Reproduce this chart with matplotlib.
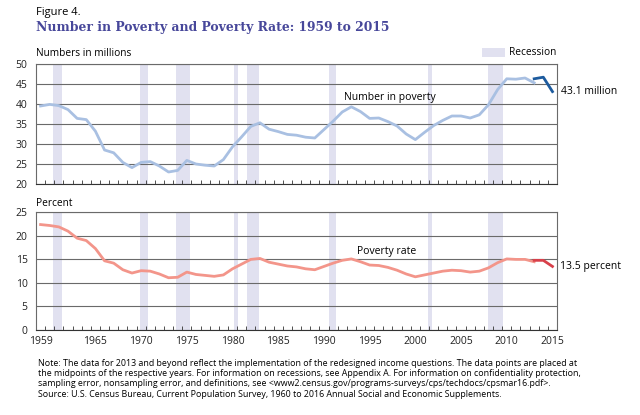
import matplotlib
matplotlib.use("Agg")
import matplotlib.pyplot as plt

# annual estimates, old income questions (1959-2013)
years = list(range(1959, 2014))
number_old = [39.5, 39.9, 39.6, 38.6, 36.4, 36.1, 33.2, 28.5, 27.8, 25.4,
              24.1, 25.4, 25.6, 24.5, 23.0, 23.4, 25.9, 25.0, 24.7, 24.5,
              26.1, 29.3, 31.8, 34.4, 35.3, 33.7, 33.1, 32.4, 32.2, 31.7,
              31.5, 33.6, 35.7, 38.0, 39.3, 38.1, 36.4, 36.5, 35.6, 34.5,
              32.5, 31.1, 32.9, 34.6, 35.9, 37.0, 37.0, 36.5, 37.3, 39.8,
              43.6, 46.3, 46.2, 46.5, 45.3]
rate_old = [22.4, 22.2, 21.9, 21.0, 19.5, 19.0, 17.3, 14.7, 14.2, 12.8,
            12.1, 12.6, 12.5, 11.9, 11.1, 11.2, 12.3, 11.8, 11.6, 11.4,
            11.7, 13.0, 14.0, 15.0, 15.2, 14.4, 14.0, 13.6, 13.4, 13.0,
            12.8, 13.5, 14.2, 14.8, 15.1, 14.5, 13.8, 13.7, 13.3, 12.7,
            11.9, 11.3, 11.7, 12.1, 12.5, 12.7, 12.6, 12.3, 12.5, 13.2,
            14.3, 15.1, 15.0, 15.0, 14.5]

# redesigned income questions (2013 and beyond)
years_new = [2013, 2014, 2015]
number_new = [46.3, 46.7, 43.1]
rate_new = [14.8, 14.8, 13.5]

# recession shading as drawn in the figure
recessions = [(1960.9, 1961.8), (1970.4, 1971.3), (1974.3, 1975.8),
              (1980.7, 1981.1), (1982.1, 1983.4), (1991.1, 1991.85),
              (2001.85, 2002.35), (2008.4, 2010.05)]

label_years = [1959, 1965, 1970, 1975, 1980, 1985, 1990, 1995, 2000, 2005, 2010, 2015]

LIGHT_BLUE = "#a9c0e2"
DARK_BLUE = "#1d5b9e"
SALMON = "#f3958a"
DARK_RED = "#d8404a"
BAND = "#e1e1f0"
GRID = "#6a6a6a"
TITLE = "#47479a"

plt.rcParams['font.family'] = ['Open Sans', 'DejaVu Sans']

fig = plt.figure(figsize=(6.4, 4.15), dpi=100)
ax_top = fig.add_axes([0.05625, 0.5566, 0.8141, 0.2892])
ax_bot = fig.add_axes([0.05625, 0.2048, 0.8141, 0.2836])

mid = [y + 0.5 for y in years]
mid_new = [y + 0.5 for y in years_new]


def style(ax):
    ax.set_xlim(1959, 2016)
    for s, e in recessions:
        ax.axvspan(s, e, color=BAND, lw=0, zorder=0)
    ax.grid(axis='y', color=GRID, lw=0.8, zorder=1)
    for side in ['left', 'right', 'top', 'bottom']:
        ax.spines[side].set_color(GRID)
        ax.spines[side].set_linewidth(0.8)
    ax.spines['bottom'].set_color('#333333')
    ax.tick_params(axis='y', length=0, pad=6, labelsize=7.5, colors='#222222')
    # year ticks at year boundaries, labels at year midpoints
    ax.set_xticks(range(1959, 2017), minor=True)
    ax.tick_params(axis='x', which='minor', direction='in', length=3,
                   width=0.6, color='#333333')
    ax.set_xticks([y + 0.5 for y in label_years])
    ax.tick_params(axis='x', which='major', length=0, pad=4, labelsize=7.5,
                   colors='#222222')
    ax.set_axisbelow(True)


style(ax_top)
ax_top.set_ylim(20, 50)
ax_top.set_yticks(range(20, 51, 5))
ax_top.set_xticklabels([])
ax_top.plot(mid, number_old, color=LIGHT_BLUE, lw=2, zorder=3)
ax_top.plot(mid_new, number_new, color=DARK_BLUE, lw=2, zorder=3)
ax_top.text(1992.7, 41.6, 'Number in poverty', fontsize=7.5, va='center')
ax_top.text(2016.4, 43.1, '43.1 million', fontsize=7.5, va='center',
            clip_on=False)

style(ax_bot)
ax_bot.set_ylim(0, 25)
ax_bot.set_yticks(range(0, 26, 5))
ax_bot.set_xticklabels([str(y) for y in label_years])
ax_bot.plot(mid, rate_old, color=SALMON, lw=2, zorder=3)
ax_bot.plot(mid_new, rate_new, color=DARK_RED, lw=2, zorder=3)
ax_bot.text(1994.1, 16.6, 'Poverty rate', fontsize=7.5, va='center')
ax_bot.text(2016.3, 13.5, '13.5 percent', fontsize=7.5, va='center',
            clip_on=False)

# headings
fig.text(36 / 640, 1 - 12 / 415, 'Figure 4.', fontsize=8, va='center')
fig.text(36 / 640, 1 - 27 / 415, 'Number in Poverty and Poverty Rate: 1959 to 2015',
         fontsize=8.9, fontweight='bold', family='DejaVu Serif', color=TITLE,
         va='center')
fig.text(36 / 640, 1 - 53 / 415, 'Numbers in millions', fontsize=7.3, va='center')
fig.text(36 / 640, 1 - 203 / 415, 'Percent', fontsize=7.3, va='center')

# recession key
fig.patches.append(plt.Rectangle((482 / 640, 1 - 57.5 / 415), 23 / 640, 9 / 415,
                                 transform=fig.transFigure, color=BAND, lw=0))
fig.text(509 / 640, 1 - 52.7 / 415, 'Recession', fontsize=7.3, va='center')

notes = [
    "Note: The data for 2013 and beyond reflect the implementation of the redesigned income questions. The data points are placed at",
    "the midpoints of the respective years. For information on recessions, see Appendix A. For information on confidentiality protection,",
    "sampling error, nonsampling error, and definitions, see <www2.census.gov/programs-surveys/cps/techdocs/cpsmar16.pdf>.",
]
for i, line in enumerate(notes):
    fig.text(38 / 640, 1 - (363 + 10 * i) / 415, line, fontsize=6.4, va='center')
fig.text(38 / 640, 1 - 394 / 415,
         "Source: U.S. Census Bureau, Current Population Survey, 1960 to 2016 Annual Social and Economic Supplements.",
         fontsize=6.4, va='center')

fig.savefig('out.png', dpi=100)
